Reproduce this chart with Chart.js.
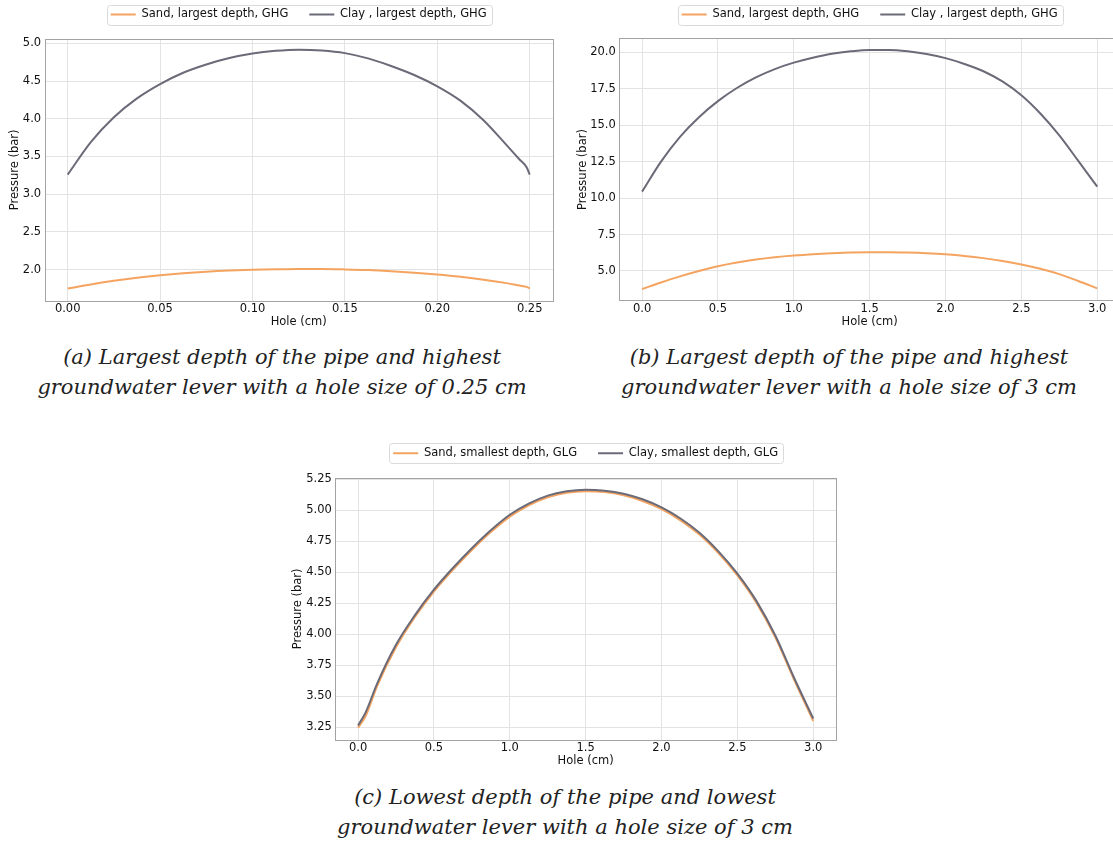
<!DOCTYPE html>
<html>
<head>
<meta charset="utf-8">
<script src="https://cdn.jsdelivr.net/npm/chart.js@4.4.1/dist/chart.umd.min.js"></script>
<style>
  html, body { margin: 0; padding: 0; width: 1113px; height: 841px; overflow: hidden; background: #fff; }
  canvas { position: absolute; }
  .caption {
    position: absolute; width: 640px; text-align: center; white-space: nowrap;
    font-family: "DejaVu Serif", serif; font-style: italic; font-size: 21px;
    line-height: 30px; color: #222;
  }
</style>
</head>
<body>
<canvas id="chart-a" width="570" height="331" style="left:0px;top:0px"></canvas>
<canvas id="chart-b" width="570" height="331" style="left:570px;top:0px"></canvas>
<canvas id="chart-c" width="575" height="340" style="left:280px;top:430px"></canvas>

<div class="caption" style="left:-38px;top:342px">(a) Largest depth of the pipe and highest<br>groundwater lever with a hole size of 0.25 cm</div>
<div class="caption" style="left:529px;top:342px">(b) Largest depth of the pipe and highest<br>groundwater lever with a hole size of 3 cm</div>
<div class="caption" style="left:245px;top:782px">(c) Lowest depth of the pipe and lowest<br>groundwater lever with a hole size of 3 cm</div>

<script>
// hole position (cm) and pressure (bar)
const holeA = [0, 0.0125, 0.025, 0.0375, 0.05, 0.0625, 0.075, 0.0875, 0.1, 0.1125, 0.125, 0.1375, 0.15, 0.1625, 0.175, 0.1875, 0.2, 0.2125, 0.225, 0.2375, 0.2445, 0.2484, 0.25];
const sandA = [1.75, 1.805, 1.852, 1.892, 1.925, 1.952, 1.973, 1.988, 1.998, 2.005, 2.009, 2.009, 2.004, 1.995, 1.98, 1.96, 1.935, 1.905, 1.868, 1.822, 1.79, 1.772, 1.75];
const clayA = [3.26, 3.69, 4.02, 4.27, 4.46, 4.61, 4.72, 4.805, 4.865, 4.90, 4.915, 4.905, 4.87, 4.80, 4.70, 4.58, 4.43, 4.24, 3.98, 3.65, 3.46, 3.355, 3.26];

const holeB = [0, 0.125, 0.25, 0.375, 0.5, 0.625, 0.75, 0.875, 1.0, 1.125, 1.25, 1.375, 1.5, 1.625, 1.75, 1.875, 2.0, 2.125, 2.25, 2.375, 2.5, 2.625, 2.75, 2.875, 3.0];
const sandB = [3.76, 4.21, 4.63, 5.0, 5.32, 5.575, 5.78, 5.94, 6.06, 6.15, 6.215, 6.26, 6.285, 6.29, 6.265, 6.215, 6.14, 6.03, 5.88, 5.69, 5.45, 5.15, 4.78, 4.31, 3.81];
const clayB = [10.44, 12.5, 14.2, 15.55, 16.65, 17.55, 18.28, 18.85, 19.29, 19.63, 19.9, 20.07, 20.16, 20.16, 20.07, 19.88, 19.6, 19.2, 18.7, 18.0, 17.05, 15.8, 14.3, 12.55, 10.78];

const holeC = [0, 0.05, 0.125, 0.25, 0.375, 0.5, 0.625, 0.75, 0.875, 1.0, 1.125, 1.25, 1.375, 1.5, 1.625, 1.75, 1.875, 2.0, 2.125, 2.25, 2.375, 2.5, 2.625, 2.75, 2.875, 3.0];
const sandC = [3.245, 3.34, 3.58, 3.895, 4.14, 4.345, 4.52, 4.68, 4.825, 4.95, 5.042, 5.107, 5.143, 5.156, 5.148, 5.122, 5.076, 5.01, 4.92, 4.805, 4.655, 4.475, 4.255, 3.975, 3.63, 3.30];
const clayC = [3.263, 3.37, 3.60, 3.915, 4.155, 4.36, 4.535, 4.695, 4.84, 4.965, 5.055, 5.12, 5.155, 5.168, 5.16, 5.135, 5.09, 5.025, 4.935, 4.82, 4.67, 4.49, 4.27, 3.99, 3.645, 3.32];

// tick values
const xTicksA = [0, 0.05, 0.10, 0.15, 0.20, 0.25];
const yTicksA = [2.0, 2.5, 3.0, 3.5, 4.0, 4.5, 5.0];
const xTicks3cm = [0, 0.5, 1.0, 1.5, 2.0, 2.5, 3.0];
const yTicksB = [5.0, 7.5, 10.0, 12.5, 15.0, 17.5, 20.0];
const yTicksC = [3.25, 3.50, 3.75, 4.00, 4.25, 4.50, 4.75, 5.00, 5.25];

const legendA = ['Sand, largest depth, GHG', 'Clay , largest depth, GHG'];
const legendC = ['Sand, smallest depth, GLG', 'Clay, smallest depth, GLG'];

const SAND_COLOR = '#f4a460';
const CLAY_COLOR = '#6b6a78';
const TEXT_COLOR = '#111';
const FONT = 'DejaVu Sans';
const FONT_SIZE = 11.5;
const LINE_H = FONT_SIZE * 1.2;
const LEGEND_PAD = 21;

// frame around plot (matplotlib spines) and around the legend
const framePlugin = {
    id: 'frame',
    afterDraw(chart) {
        const ctx = chart.ctx;
        const a = chart.chartArea;
        ctx.save();
        ctx.strokeStyle = '#a3a3a3';
        ctx.lineWidth = 1;
        ctx.strokeRect(Math.round(a.left) + 0.5, Math.round(a.top) + 0.5,
            Math.round(a.right - a.left), Math.round(a.bottom - a.top));

        const boxes = chart.legend.legendHitBoxes;
        if (boxes && boxes.length) {
            const first = boxes[0];
            const last = boxes[boxes.length - 1];
            const x0 = Math.round(first.left - 4) + 0.5;
            const x1 = Math.round(last.left + last.width + 5) + 0.5;
            const cy = first.top + first.height / 2;
            const y0 = Math.round(cy - 10) + 0.5;
            const y1 = Math.round(cy + 10) + 0.5;
            ctx.strokeStyle = '#dadada';
            ctx.beginPath();
            ctx.roundRect(x0, y0, x1 - x0, y1 - y0, 3);
            ctx.stroke();
        }
        ctx.restore();
    }
};

function makeChart(id, box, holes, sand, clay, names, xr, yr, xTicks, yTicks, xDec, yDec) {
    const el = document.getElementById(id);
    const cw = el.width, ch = el.height;
    const padTop = box.legendY - LEGEND_PAD - FONT_SIZE / 2;
    const legendBottom = padTop + FONT_SIZE + LEGEND_PAD + 10;

    const font = { family: FONT, size: FONT_SIZE };

    return new Chart(el, {
        type: 'line',
        data: {
            datasets: [{
                label: names[0],
                data: holes.map((h, i) => ({ x: h, y: sand[i] })),
                borderColor: SAND_COLOR,
                backgroundColor: SAND_COLOR,
                borderWidth: 2,
                pointRadius: 0,
                cubicInterpolationMode: 'monotone',
                order: 1
            }, {
                label: names[1],
                data: holes.map((h, i) => ({ x: h, y: clay[i] })),
                borderColor: CLAY_COLOR,
                backgroundColor: CLAY_COLOR,
                borderWidth: 2,
                pointRadius: 0,
                cubicInterpolationMode: 'monotone',
                order: 0
            }]
        },
        options: {
            responsive: false,
            animation: false,
            events: [],
            layout: {
                padding: { left: 0, right: cw - box.right, top: padTop, bottom: 1 }
            },
            plugins: {
                tooltip: { enabled: false },
                legend: {
                    position: 'top',
                    fullSize: false,
                    labels: {
                        usePointStyle: true,
                        pointStyle: 'line',
                        pointStyleWidth: 25,
                        padding: LEGEND_PAD,
                        color: TEXT_COLOR,
                        font: font,
                        sort: (a, b) => a.datasetIndex - b.datasetIndex
                    }
                }
            },
            scales: {
                x: {
                    type: 'linear',
                    min: xr[0],
                    max: xr[1],
                    afterBuildTicks: (axis) => { axis.ticks = xTicks.map(v => ({ value: v })); },
                    afterFit: (axis) => { axis.height = ch - 1 - box.bottom; },
                    grid: { color: '#e3e3e3', lineWidth: 1, drawTicks: false },
                    border: { display: false },
                    ticks: {
                        autoSkip: false,
                        maxRotation: 0,
                        padding: 1,
                        color: TEXT_COLOR,
                        font: font,
                        callback: (v) => Number(v).toFixed(xDec)
                    },
                    title: {
                        display: true,
                        text: 'Hole (cm)',
                        color: TEXT_COLOR,
                        font: font,
                        padding: { top: 0, bottom: 1 }
                    }
                },
                xTop: {
                    type: 'linear',
                    position: 'top',
                    afterFit: (axis) => { axis.height = box.top - legendBottom; },
                    grid: { display: false },
                    border: { display: false },
                    ticks: { display: false }
                },
                y: {
                    type: 'linear',
                    min: yr[0],
                    max: yr[1],
                    afterBuildTicks: (axis) => { axis.ticks = yTicks.map(v => ({ value: v })); },
                    afterFit: (axis) => { axis.width = box.left; },
                    grid: { color: '#e3e3e3', lineWidth: 1, drawTicks: false },
                    border: { display: false },
                    ticks: {
                        autoSkip: false,
                        padding: 3.5,
                        color: TEXT_COLOR,
                        font: font,
                        callback: (v) => Number(v).toFixed(yDec)
                    },
                    title: {
                        display: true,
                        text: 'Pressure (bar)',
                        color: TEXT_COLOR,
                        font: font,
                        padding: { top: box.yTitle - LINE_H / 2, bottom: 0 }
                    }
                }
            }
        },
        plugins: [framePlugin]
    });
}

document.addEventListener('DOMContentLoaded', function () {
    // plot boxes relative to each canvas
    makeChart('chart-a',
        { left: 44.6, right: 552.8, top: 39, bottom: 300.7, legendY: 14.5, yTitle: 15.4 },
        holeA, sandA, clayA, legendA,
        [-0.0125, 0.2625], [1.589, 5.057], xTicksA, yTicksA, 2, 1);

    makeChart('chart-b',
        { left: 49.3, right: 550, top: 38.3, bottom: 300.7, legendY: 14.5, yTitle: 12.6 },
        holeB, sandB, clayB, legendA,
        [-0.15, 3.15], [2.96, 20.96], xTicks3cm, yTicksB, 1, 1);

    makeChart('chart-c',
        { left: 55.3, right: 556, top: 48, bottom: 309.7, legendY: 23.3, yTitle: 18 },
        holeC, sandC, clayC, legendC,
        [-0.15, 3.15], [3.149, 5.262], xTicks3cm, yTicksC, 1, 2);
});
</script>
</body>
</html>
